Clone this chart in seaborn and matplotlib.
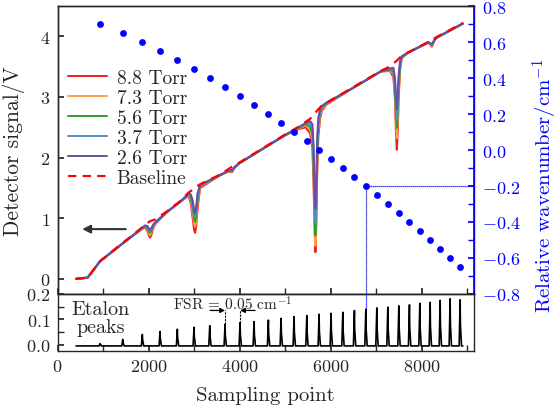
import numpy as np
import pandas as pd
import matplotlib
matplotlib.use("Agg")
import matplotlib.pyplot as plt
import seaborn as sns
from matplotlib.ticker import MultipleLocator
from matplotlib.lines import Line2D

# Absorption signal (sampling point -> detector signal, V)
x_pts = [407, 663, 934, 1374, 1666, 1850, 1923, 1975, 2005, 2033, 2065, 2100, 2143,
         2400, 2692, 2820, 2875, 2930, 2970, 3000, 3022, 3045, 3075, 3132, 3571,
         3750, 3835, 3900, 4000, 4500, 5000, 5300, 5450, 5550, 5600, 5625, 5645,
         5665, 5685, 5705, 5730, 5770, 5806, 5900, 6495, 7100, 7300, 7380, 7415,
         7435, 7455, 7475, 7495, 7530, 7565, 7700, 8150, 8224, 8290, 8334, 8905]

sig_88 = [0.0, 0.02, 0.29, 0.55, 0.72, 0.82, 0.85, 0.79, 0.72, 0.68, 0.73, 0.83, 0.90,
          1.10, 1.27, 1.34, 1.37, 1.25, 1.00, 0.82, 0.76, 0.86, 1.15, 1.50, 1.71,
          1.77, 1.76, 1.84, 1.91, 2.14, 2.37, 2.47, 2.50, 2.40, 2.15, 1.60, 0.90,
          0.44, 0.90, 1.75, 2.35, 2.65, 2.77, 2.87, 3.15, 3.42, 3.43, 3.33, 2.95,
          2.45, 2.13, 2.45, 3.00, 3.48, 3.64, 3.73, 3.90, 3.83, 3.95, 3.98, 4.21]
sig_73 = [0.0, 0.02, 0.29, 0.55, 0.72, 0.82, 0.86, 0.81, 0.75, 0.72, 0.76, 0.85, 0.91,
          1.10, 1.27, 1.345, 1.38, 1.29, 1.08, 0.92, 0.86, 0.95, 1.22, 1.52, 1.71,
          1.77, 1.77, 1.84, 1.91, 2.14, 2.37, 2.48, 2.53, 2.46, 2.27, 1.78, 1.05,
          0.55, 1.05, 1.90, 2.45, 2.70, 2.80, 2.88, 3.15, 3.42, 3.44, 3.38, 3.05,
          2.60, 2.32, 2.60, 3.10, 3.52, 3.65, 3.73, 3.90, 3.84, 3.95, 3.98, 4.21]
sig_56 = [0.0, 0.02, 0.29, 0.55, 0.72, 0.83, 0.87, 0.83, 0.78, 0.76, 0.79, 0.87, 0.92,
          1.10, 1.27, 1.35, 1.39, 1.33, 1.16, 1.00, 0.94, 1.03, 1.29, 1.53, 1.71,
          1.775, 1.78, 1.845, 1.91, 2.14, 2.37, 2.49, 2.55, 2.51, 2.38, 1.95, 1.22,
          0.72, 1.20, 2.05, 2.53, 2.74, 2.82, 2.89, 3.15, 3.42, 3.45, 3.42, 3.14,
          2.75, 2.49, 2.75, 3.20, 3.55, 3.66, 3.73, 3.90, 3.85, 3.95, 3.98, 4.21]
sig_37 = [0.0, 0.02, 0.29, 0.55, 0.72, 0.83, 0.875, 0.85, 0.81, 0.79, 0.82, 0.88, 0.92,
          1.10, 1.27, 1.355, 1.40, 1.36, 1.23, 1.08, 1.02, 1.10, 1.35, 1.54, 1.71,
          1.78, 1.79, 1.85, 1.91, 2.14, 2.37, 2.50, 2.56, 2.56, 2.47, 2.08, 1.38,
          0.94, 1.36, 2.18, 2.59, 2.77, 2.84, 2.90, 3.15, 3.42, 3.46, 3.45, 3.22,
          2.88, 2.62, 2.88, 3.28, 3.58, 3.67, 3.73, 3.90, 3.86, 3.95, 3.98, 4.21]
sig_26 = [0.0, 0.02, 0.29, 0.55, 0.72, 0.83, 0.88, 0.87, 0.83, 0.81, 0.84, 0.89, 0.93,
          1.10, 1.27, 1.36, 1.41, 1.39, 1.29, 1.14, 1.08, 1.16, 1.40, 1.55, 1.71,
          1.78, 1.80, 1.85, 1.91, 2.14, 2.37, 2.50, 2.57, 2.60, 2.55, 2.20, 1.50,
          1.16, 1.50, 2.30, 2.65, 2.80, 2.85, 2.90, 3.15, 3.42, 3.47, 3.48, 3.30,
          3.00, 2.80, 3.00, 3.36, 3.60, 3.67, 3.73, 3.90, 3.87, 3.95, 3.98, 4.21]

pressures = ["8.8 Torr", "7.3 Torr", "5.6 Torr", "3.7 Torr", "2.6 Torr"]
colors = ["#ee1c1c", "#ffa040", "#2e9e2e", "#4f8fc8", "#6a4ea4"]

# Fitted baseline (red dashed)
base_x = [407, 663, 934, 1374, 1666, 1923, 2033, 2143, 2400, 2692, 2875, 2950, 3022,
          3132, 3571, 3835, 4000, 4500, 5000, 5300, 5550, 5665, 5806, 6495, 7100,
          7300, 7455, 7565, 8150, 8334, 8905]
base_y = [0.0, 0.02, 0.29, 0.56, 0.73, 0.89, 0.95, 0.98, 1.11, 1.28, 1.42, 1.46, 1.50,
          1.56, 1.72, 1.85, 1.92, 2.15, 2.38, 2.51, 2.64, 2.74, 2.86, 3.16, 3.43,
          3.50, 3.60, 3.68, 3.91, 3.99, 4.22]

# Etalon peaks (sampling point, peak height) and relative wavenumber of each peak
peak_pos = [934, 1433, 1864, 2253, 2633, 3000, 3345, 3681, 4011, 4319, 4633, 4912,
            5198, 5477, 5747, 6011, 6268, 6523, 6774, 7015, 7257, 7499, 7732, 7960,
            8187, 8407, 8626, 8846]
peak_h = [0.004, 0.021, 0.040, 0.052, 0.061, 0.069, 0.075, 0.080, 0.087, 0.091,
          0.097, 0.104, 0.111, 0.115, 0.120, 0.124, 0.128, 0.135, 0.140, 0.145,
          0.148, 0.153, 0.157, 0.163, 0.167, 0.175, 0.181, 0.177]
rel_wn = [0.70, 0.65, 0.60, 0.55, 0.50, 0.45, 0.40, 0.35, 0.30, 0.25, 0.20, 0.15,
          0.10, 0.05, 0.00, -0.05, -0.10, -0.15, -0.20, -0.25, -0.30, -0.35, -0.40,
          -0.45, -0.50, -0.55, -0.60, -0.65]
etalon_floor = -0.005
x_start, x_end = 407, 8905
marked = 18  # peak used as the -0.2 cm-1 example

sns.set_theme(style="ticks")
plt.rcParams["font.family"] = ["cmr10", "DejaVu Serif"]
plt.rcParams["mathtext.fontset"] = "cm"
plt.rcParams["axes.formatter.use_mathtext"] = True
plt.rcParams["axes.unicode_minus"] = True
plt.rcParams["xtick.direction"] = "in"
plt.rcParams["ytick.direction"] = "in"
plt.rcParams["axes.linewidth"] = 1.0
fs_tick = 13

fig = plt.figure(figsize=(5.6, 4.1), dpi=100)
ax = fig.add_axes([0.1027, 0.2805, 0.7437, 0.7024])
axb = fig.add_axes([0.1027, 0.1415, 0.7437, 0.139])
ax2 = ax.twinx()

# long table for the five pressures
rows = []
for p, s in zip(pressures, [sig_88, sig_73, sig_56, sig_37, sig_26]):
    for xv, yv in zip(x_pts, s):
        rows.append({"point": xv, "signal": yv, "pressure": p})
df = pd.DataFrame(rows)
sns.lineplot(data=df, x="point", y="signal", hue="pressure", palette=colors,
             hue_order=pressures, sort=False, lw=1.5, ax=ax, legend=False)
sns.lineplot(x=base_x, y=base_y, color="#ff0000", lw=1.6, ax=ax,
             linestyle=(0, (4, 3)), sort=False)

# legend
handles = [Line2D([], [], color=c, lw=1.4) for c in colors]
handles.append(Line2D([], [], color="#ff0000", lw=1.5, linestyle=(0, (4, 3))))
ax.legend(handles, pressures + ["Baseline"], loc="upper left",
          bbox_to_anchor=(0.025, 0.78), frameon=False, fontsize=14,
          borderpad=0, borderaxespad=0, labelspacing=0.1, handlelength=2.0,
          handletextpad=0.5)

# arrow pointing to left axis
ax.annotate("", xy=(480, 0.82), xytext=(1560, 0.82),
            arrowprops=dict(arrowstyle="-|>", color="#333333", lw=1.5,
                            mutation_scale=12))

ax.set_xlim(0, 9150)
ax.set_ylim(-0.25, 4.5)
ax.yaxis.set_major_locator(MultipleLocator(1))
ax.xaxis.set_major_locator(MultipleLocator(2000))
ax.xaxis.set_minor_locator(MultipleLocator(1000))
ax.tick_params(axis="x", which="both", labelbottom=False, length=4)
ax.tick_params(axis="y", labelsize=fs_tick, length=4, pad=5)
ax.set_ylabel("Detector signal/V", fontsize=15.5)
ax.yaxis.set_label_coords(-0.078, 0.5)

# relative wavenumber dots on the right axis
sns.scatterplot(x=peak_pos, y=rel_wn, color="#0000ff", s=24, linewidth=0, ax=ax2,
                zorder=5)
mx, my = peak_pos[marked], rel_wn[marked]
ax2.plot([mx, mx], [my, -0.8], color="#0000ff", lw=0.9, linestyle=(0, (1, 0.6)))
ax2.plot([mx, 9150], [my, my], color="#0000ff", lw=0.9, linestyle=(0, (1, 0.6)))
ax2.set_ylim(-0.8, 0.8)
ax2.yaxis.set_major_locator(MultipleLocator(0.2))
ax2.yaxis.set_minor_locator(MultipleLocator(0.1))
ax2.tick_params(axis="y", which="both", colors="#0000ff", labelsize=fs_tick,
                length=4, pad=6)
ax2.spines["right"].set_color("#0000ff")
ax2.spines["right"].set_linewidth(1.2)
ax2.set_ylabel("Relative wavenumber/cm$^{-1}$", color="#0000ff", fontsize=15)
ax2.yaxis.set_label_coords(1.136, 0.38)

# etalon trace built from the peak list
ex, ey = [x_start], [etalon_floor]
for p, h in zip(peak_pos, peak_h):
    ex += [p - 22, p, p + 6, p + 14, p + 30]
    ey += [etalon_floor, h, 0.45 * h, 0.3 * h, etalon_floor]
ex.append(x_end)
ey.append(etalon_floor)
sns.lineplot(x=ex, y=ey, color="black", lw=1.2, sort=False, ax=axb)
axb.plot([mx, mx], [peak_h[marked], 0.2], color="#0000ff", lw=0.9,
         linestyle=(0, (1, 0.6)))

# FSR marker between two neighbouring peaks
i1, i2 = 7, 8
arrow_y = 0.135
for i in (i1, i2):
    axb.plot([peak_pos[i], peak_pos[i]], [peak_h[i], arrow_y], color="black",
             lw=0.8, linestyle=(0, (2, 1)))
axb.annotate("", xy=(peak_pos[i1], arrow_y), xytext=(peak_pos[i1] - 330, arrow_y),
             arrowprops=dict(arrowstyle="-|>", color="black", lw=0.9,
                             mutation_scale=7, shrinkA=0, shrinkB=0))
axb.annotate("", xy=(peak_pos[i2], arrow_y), xytext=(peak_pos[i2] + 330, arrow_y),
             arrowprops=dict(arrowstyle="-|>", color="black", lw=0.9,
                             mutation_scale=7, shrinkA=0, shrinkB=0))
axb.text((peak_pos[i1] + peak_pos[i2]) / 2, 0.163, "FSR = 0.05 cm$^{-1}$",
         ha="center", va="center", fontsize=11)
axb.text(950, 0.105, "Etalon\npeaks", ha="center", va="center",
         multialignment="center", fontsize=14.5, linespacing=0.95)

axb.set_xlim(0, 9150)
axb.set_ylim(-0.025, 0.2)
axb.xaxis.set_major_locator(MultipleLocator(2000))
axb.xaxis.set_minor_locator(MultipleLocator(1000))
axb.yaxis.set_major_locator(MultipleLocator(0.1))
axb.yaxis.set_minor_locator(MultipleLocator(0.05))
axb.tick_params(axis="both", which="both", labelsize=fs_tick, length=4, pad=5)
axb.set_xlabel("Sampling point", fontsize=15, labelpad=9)
axb.set_ylabel("")

fig.savefig("out.png", dpi=100)
